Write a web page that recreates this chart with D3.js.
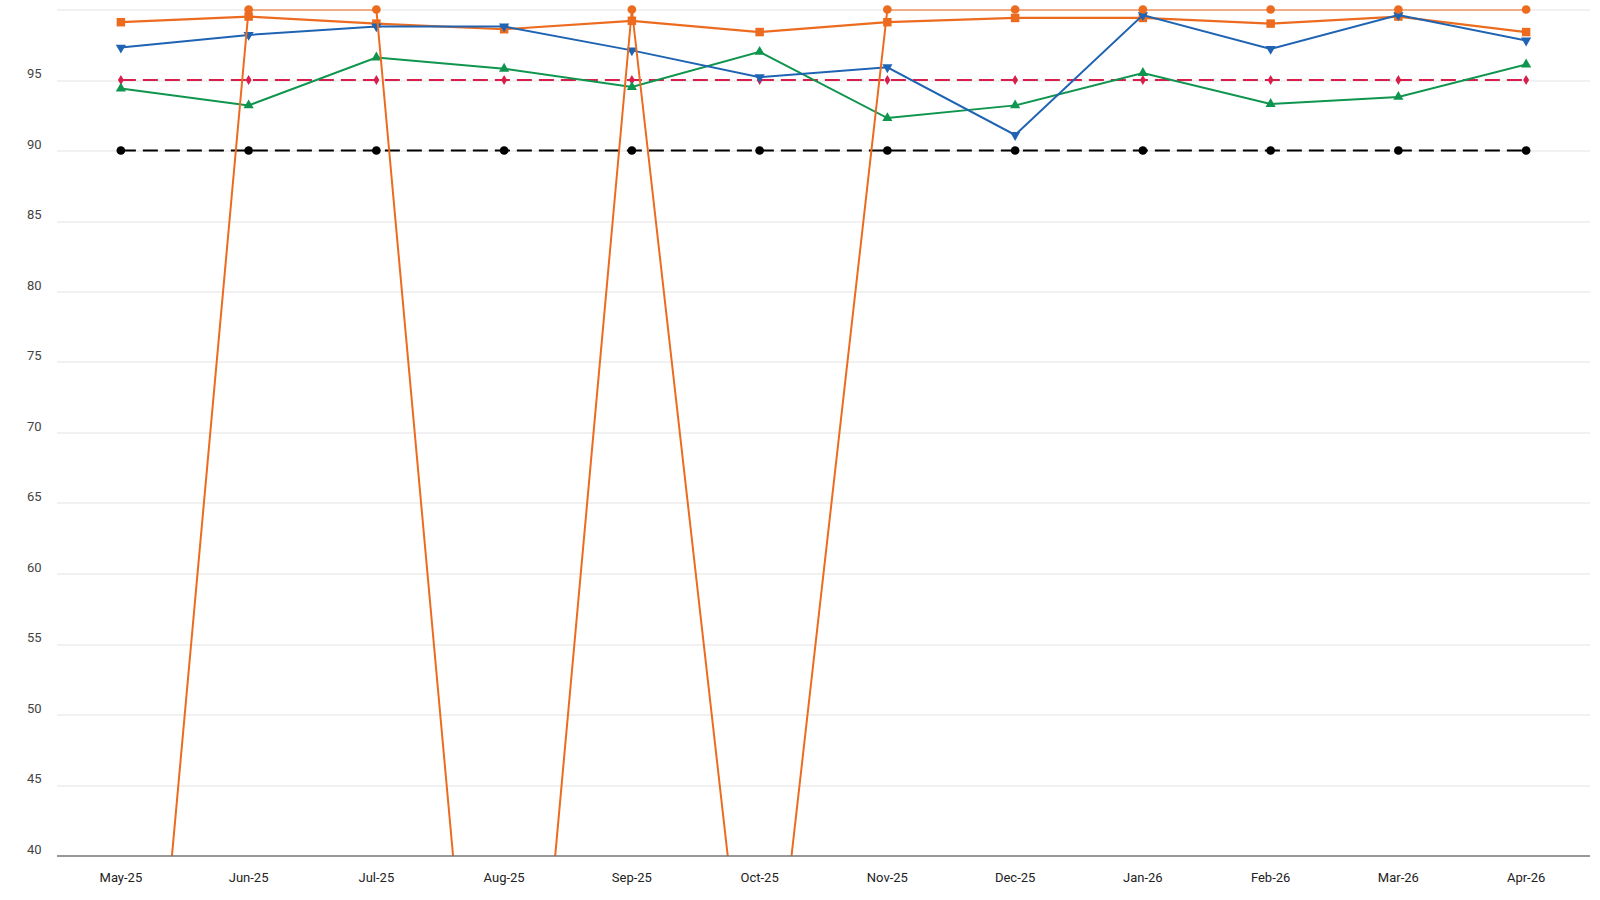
<!DOCTYPE html>
<html>
<head>
<meta charset="utf-8">
<script src="https://cdn.jsdelivr.net/npm/d3@7/dist/d3.min.js"></script>
<style>
  body { margin: 0; background: #fff; }
  text { font-family: Roboto, "Noto Sans", sans-serif; }
</style>
</head>
<body>
<svg id="chart" width="1600" height="900"></svg>
<script>
let margin = { top: 9.5, right: 10, bottom: 44.5, left: 57 };

const months = ["May-25", "Jun-25", "Jul-25", "Aug-25", "Sep-25", "Oct-25",
  "Nov-25", "Dec-25", "Jan-26", "Feb-26", "Mar-26", "Apr-26"];
const yTicks = [40, 45, 50, 55, 60, 65, 70, 75, 80, 85, 90, 95, 100];

const circleSeries = [0, 100, 100, 0, 100, 20, 100, 100, 100, 100, 100, 100];
const squareSeries = [99.1, 99.5, 99.0, 98.6, 99.2, 98.4, 99.1, 99.4, 99.4, 99.0, 99.5, 98.4];
const blueSeries = [97.3, 98.2, 98.8, 98.8, 97.1, 95.2, 95.9, 91.1, 99.6, 97.2, 99.6, 97.8];
const greenSeries = [94.4, 93.2, 96.6, 95.8, 94.5, 97.0, 92.3, 93.2, 95.5, 93.3, 93.8, 96.1];
const target95 = [95, 95, 95, 95, 95, 95, 95, 95, 95, 95, 95, 95];
const target90 = [90, 90, 90, 90, 90, 90, 90, 90, 90, 90, 90, 90];

var svg = d3.select("#chart");
var width = +svg.attr("width") - margin.left - margin.right;
var height = +svg.attr("height") - margin.top - margin.bottom;

var xScale = d3.scalePoint().domain(months).range([0, width]).padding(0.5);
var yScale = d3.scaleLinear().domain([40, 100]).range([height, 0]);

var g = svg.append("g").attr("transform", `translate(${margin.left}, ${margin.top})`);

// gridlines
g.append("g")
  .selectAll("line")
  .data(yTicks.filter(d => d > 40))
  .join("line")
  .attr("x1", 0)
  .attr("x2", width)
  .attr("y1", d => Math.round(yScale(d)) + 0.5)
  .attr("y2", d => Math.round(yScale(d)) + 0.5)
  .attr("stroke", "#e3e3e3")
  .attr("stroke-width", 1);

// y labels
g.append("g")
  .selectAll("text")
  .data(yTicks.filter(d => d < 100))
  .join("text")
  .attr("x", -15.5)
  .attr("y", d => yScale(d) - 2)
  .attr("text-anchor", "end")
  .style("font-size", "13px")
  .style("fill", "#444")
  .text(d => d);

// x labels
g.append("g")
  .selectAll("text")
  .data(months)
  .join("text")
  .attr("x", d => xScale(d))
  .attr("y", height + 26.5)
  .attr("text-anchor", "middle")
  .style("font-size", "13px")
  .style("fill", "#222")
  .text(d => d);

// lines are clipped to the plot area, markers are not
svg.append("clipPath").attr("id", "plotclip")
  .append("rect")
  .attr("x", 0).attr("y", 0)
  .attr("width", width).attr("height", height);

var seriesInfo = [
  { values: target90, color: "#000000", width: 2.2, dash: "15,7", marker: d3.symbolCircle, size: 60 },
  { values: target95, color: "#d81e4c", width: 2.2, dash: "15,7", marker: d3.symbolDiamond, size: 30 },
  { values: greenSeries, color: "#0f954e", width: 2, dash: null, marker: d3.symbolTriangle, size: 45 },
  { values: squareSeries, color: "#ec6b1f", width: 2.2, dash: null, marker: d3.symbolSquare, size: 72 },
  { values: blueSeries, color: "#1f63b3", width: 2, dash: null, marker: "down", size: 45 },
  { values: circleSeries, color: "#ec6b1f", width: 2, dash: null, marker: d3.symbolCircle, size: 60 }
];

var line = d3.line()
  .x((d, i) => xScale(months[i]))
  .y(d => yScale(d));

for (var i = 0; i < seriesInfo.length; i++) {
  var s = seriesInfo[i];
  g.append("path")
    .datum(s.values)
    .attr("clip-path", "url(#plotclip)")
    .attr("fill", "none")
    .attr("stroke", s.color)
    .attr("stroke-width", s.width)
    .attr("stroke-dasharray", s.dash)
    .attr("d", line);

  var sym = s.marker === "down" ? d3.symbolTriangle : s.marker;
  var rot = s.marker === "down" ? 180 : 0;
  g.append("g")
    .selectAll("path")
    .data(s.values.map((v, j) => ({ v: v, m: months[j] })).filter(d => d.v >= 40))
    .join("path")
    .attr("transform", d => `translate(${xScale(d.m)}, ${yScale(d.v)}) rotate(${rot})`)
    .attr("d", d3.symbol().type(sym).size(s.size))
    .attr("fill", s.color);
}

// baseline at 40
g.append("line")
  .attr("x1", 0)
  .attr("x2", width)
  .attr("y1", Math.round(yScale(40)) + 0.5)
  .attr("y2", Math.round(yScale(40)) + 0.5)
  .attr("stroke", "#333")
  .attr("stroke-width", 1.2);
</script>
</body>
</html>
